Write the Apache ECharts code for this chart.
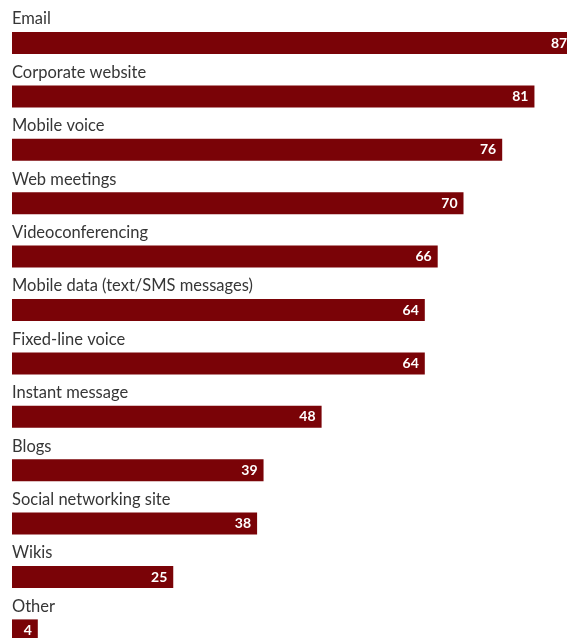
<!DOCTYPE html>
<html>
<head>
<meta charset="utf-8">
<script src="https://cdn.jsdelivr.net/npm/echarts@6/dist/echarts.min.js"></script>
<style>
  html, body { margin: 0; padding: 0; background: #ffffff; }
  #chart { width: 567px; height: 638px; }
</style>
</head>
<body>
<div id="chart"></div>
<script>
// Communication channels, share of respondents (%)
const categories = [
  'Email',
  'Corporate website',
  'Mobile voice',
  'Web meetings',
  'Videoconferencing',
  'Mobile data (text/SMS messages)',
  'Fixed-line voice',
  'Instant message',
  'Blogs',
  'Social networking site',
  'Wikis',
  'Other'
];
const values = [87, 81, 76, 70, 66, 64, 64, 48, 39, 38, 25, 4];

const barColor = '#7a0307';
const textColor = '#363636';
const fontFamily = 'Lato, "Open Sans", sans-serif';

const chart = echarts.init(document.getElementById('chart'), null, { renderer: 'canvas' });

chart.setOption({
  animation: false,
  backgroundColor: '#ffffff',
  grid: {
    left: 12,
    top: 16.3,
    width: 645,
    height: 640.8,
    outerBoundsMode: 'none',
    containLabel: false
  },
  xAxis: {
    type: 'value',
    min: 0,
    max: 100,
    show: false
  },
  yAxis: {
    type: 'category',
    data: categories,
    inverse: true,
    axisLine: { show: false },
    axisTick: { show: false },
    splitLine: { show: false },
    axisLabel: {
      inside: true,
      margin: 0,
      align: 'left',
      verticalAlign: 'bottom',
      lineHeight: 20,
      padding: [0, 0, 14, 0],
      color: textColor,
      fontFamily: fontFamily,
      fontSize: 16.5
    },
    z: 10
  },
  series: [{
    type: 'bar',
    data: values,
    barWidth: 22,
    clip: false,
    itemStyle: { color: barColor },
    label: {
      show: true,
      position: 'insideRight',
      distance: 6,
      color: '#ffffff',
      fontFamily: fontFamily,
      fontWeight: 'bold',
      fontSize: 14
    }
  }]
});
</script>
</body>
</html>
